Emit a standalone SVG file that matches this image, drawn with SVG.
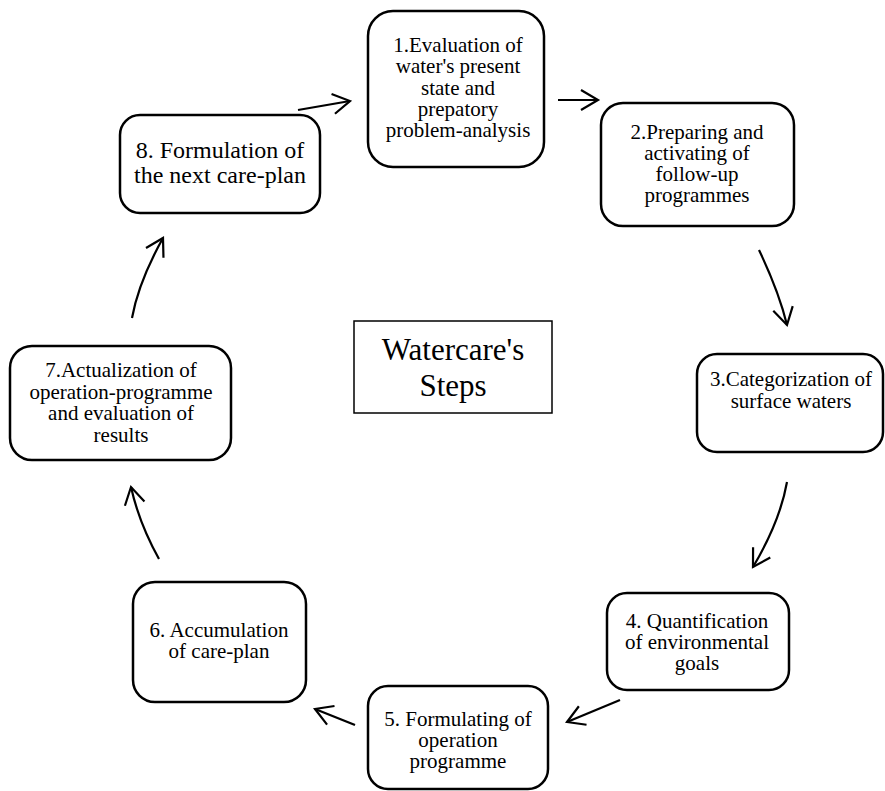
<svg xmlns="http://www.w3.org/2000/svg" width="885" height="791" viewBox="0 0 885 791">
<style>
.box{fill:#fff;stroke:#000;stroke-width:2.5}
.title{fill:#fff;stroke:#000;stroke-width:1.5}
.t{font-family:"Liberation Serif","Times New Roman",serif;font-size:21px;fill:#000;text-anchor:middle}
.t24{font-size:24px}
.t31{font-size:31px}
.c{fill:none;stroke:#000;stroke-width:2.2}
</style>
<defs>
<marker id="ah" markerUnits="userSpaceOnUse" viewBox="-22 -13 26 26" markerWidth="26" markerHeight="26" refX="0" refY="0" orient="auto" overflow="visible">
<path d="M-17,-10 L0,0 L-17,10" fill="none" stroke="#000" stroke-width="2.2"/>
</marker>
</defs>
<rect width="885" height="791" fill="#fff"/>
<g id="connectors">
<path class="c" d="M298,110 L350,101" marker-end="url(#ah)"/>
<path class="c" d="M558,100 L598,100" marker-end="url(#ah)"/>
<path class="c" d="M759,250 Q779,292 787,325" marker-end="url(#ah)"/>
<path class="c" d="M787,482 Q780,521.5 753,567" marker-end="url(#ah)"/>
<path class="c" d="M620,700 L567,722" marker-end="url(#ah)"/>
<path class="c" d="M355,725 L315,709" marker-end="url(#ah)"/>
<path class="c" d="M159,559 Q139,523 131,487" marker-end="url(#ah)"/>
<path class="c" d="M132,318 Q138.5,282 163,238" marker-end="url(#ah)"/>
</g>
<g id="title">
<rect class="title" x="354" y="321" width="198" height="92"/>
<text class="t t31" x="453" y="360">Watercare's</text>
<text class="t t31" x="453" y="396">Steps</text>
</g>
<g id="step1">
<rect class="box" x="368" y="11" width="176" height="156" rx="25"/>
<text class="t" x="458" y="52">1.Evaluation of</text>
<text class="t" x="458" y="73">water's present</text>
<text class="t" x="458" y="94.5">state and</text>
<text class="t" x="458" y="115.5">prepatory</text>
<text class="t" x="458" y="137">problem-analysis</text>
</g>
<g id="step2">
<rect class="box" x="601" y="103" width="193" height="123" rx="22"/>
<text class="t" x="697" y="139">2.Preparing and</text>
<text class="t" x="697" y="160">activating of</text>
<text class="t" x="697" y="181">follow-up</text>
<text class="t" x="697" y="202">programmes</text>
</g>
<g id="step3">
<rect class="box" x="697" y="354" width="186" height="98" rx="20"/>
<text class="t" x="791" y="386">3.Categorization of</text>
<text class="t" x="791" y="408">surface waters</text>
</g>
<g id="step4">
<rect class="box" x="607" y="593" width="182" height="97" rx="20"/>
<text class="t" x="697" y="628">4. Quantification</text>
<text class="t" x="697" y="649">of environmental</text>
<text class="t" x="697" y="670">goals</text>
</g>
<g id="step5">
<rect class="box" x="368" y="686" width="180" height="103" rx="20"/>
<text class="t" x="458" y="726">5. Formulating of</text>
<text class="t" x="458" y="747">operation</text>
<text class="t" x="458" y="768">programme</text>
</g>
<g id="step6">
<rect class="box" x="133" y="582" width="173" height="120" rx="22"/>
<text class="t" x="219" y="637">6. Accumulation</text>
<text class="t" x="219" y="658">of care-plan</text>
</g>
<g id="step7">
<rect class="box" x="10" y="346" width="221" height="114" rx="22"/>
<text class="t" x="121" y="377">7.Actualization of</text>
<text class="t" x="121" y="398.5">operation-programme</text>
<text class="t" x="121" y="420">and evaluation of</text>
<text class="t" x="121" y="441.5">results</text>
</g>
<g id="step8">
<rect class="box" x="120" y="115" width="200" height="98" rx="20"/>
<text class="t t24" x="220" y="158">8. Formulation of</text>
<text class="t t24" x="220" y="183">the next care-plan</text>
</g>
</svg>
